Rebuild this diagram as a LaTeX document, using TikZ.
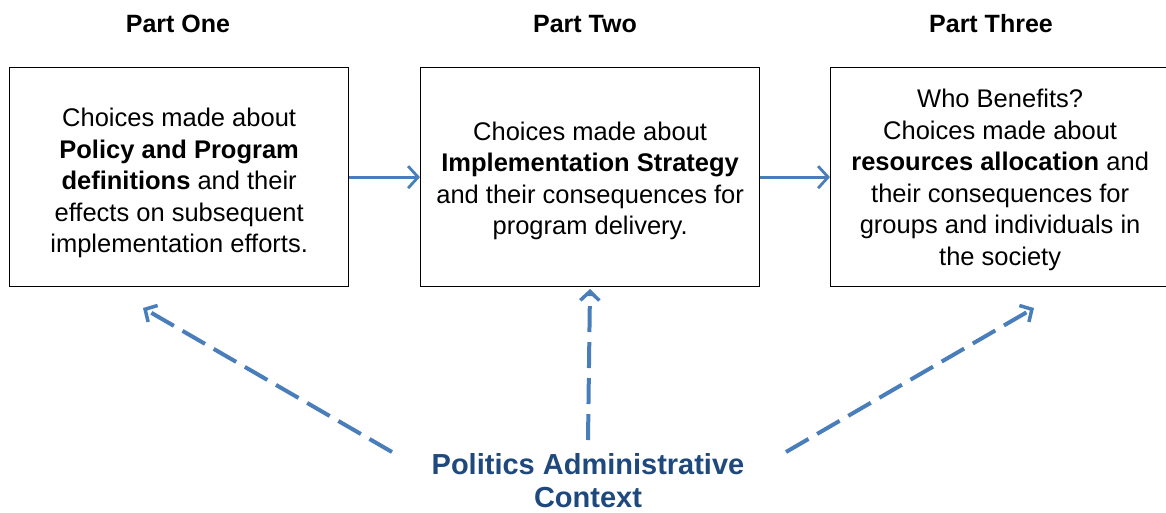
\documentclass[tikz,border=0pt]{standalone}
\usepackage{fontspec}
\setmainfont{Liberation Sans}
\usetikzlibrary{arrows.meta,positioning}
\definecolor{flowblue}{RGB}{74,126,187}
\definecolor{contextblue}{RGB}{31,73,125}

\begin{document}
\begin{tikzpicture}[x=1pt, y=-1pt,
    part/.style={font=\bfseries\fontsize{25}{30}\selectfont},
    choice/.style={draw, line width=1.3pt, anchor=north west, minimum width=339pt,
      minimum height=219pt, inner sep=0pt},
    choicetext/.style={align=center, inner sep=0pt, font=\fontsize{25.5}{31.5}\selectfont},
    flow/.style={draw=flowblue, line width=2.8pt,
      -{Straight Barb[length=10pt, width=22pt]}},
    influence/.style={draw=flowblue, line width=4pt, dash pattern=on 26pt off 10pt,
      -{Straight Barb[length=9pt, width=19pt, line width=3.5pt]}}]
    \useasboundingbox (0,0) rectangle (1166,512);

    % the three parts
    \node[part] (one)   at (178,24) {Part One};
    \node[part] (two)   at (585,24) {Part Two};
    \node[part] (three) at (991,24) {Part Three};

    \node[choice] (policy)   at (9,67) {};
    \node[choice] (strategy) at (420,67) {};
    \node[choice] (benefits) at (830,67) {};

    \node[choicetext] (policy-txt) at ([yshift=-6pt]policy.center)
      {Choices made about\\ \textbf{Policy and Program}\\
      \textbf{definitions} and their\\ effects on subsequent\\ implementation efforts.};
    \node[choicetext] (strategy-txt) at ([yshift=-4pt]strategy.center)
      {Choices made about\\ \textbf{Implementation Strategy}\\
      and their consequences for\\ program delivery.};
    \node[choicetext] (benefits-txt) at ([yshift=-3pt]benefits.center)
      {Who Benefits?\\ Choices made about\\
      \textbf{resources allocation} and\\ their consequences for\\
      groups and individuals in\\ the society};

    \draw[flow] (policy) -- (strategy);
    \draw[flow] (strategy) -- (benefits);

    % context underneath
    \node[font=\bfseries\fontsize{29}{33}\selectfont, text=contextblue, align=center]
      (context) at (588,481) {Politics Administrative\\ Context};

    \coordinate (from-l) at (392,452);
    \coordinate (from-m) at (588,440);
    \coordinate (from-r) at (786,452);
    \coordinate (to-l) at (143,308);
    \coordinate (to-m) at (590,289);
    \coordinate (to-r) at (1034,308);
    \foreach \s in {l,m,r}
      \draw[influence] (from-\s) -- (to-\s);
\end{tikzpicture}
\end{document}
